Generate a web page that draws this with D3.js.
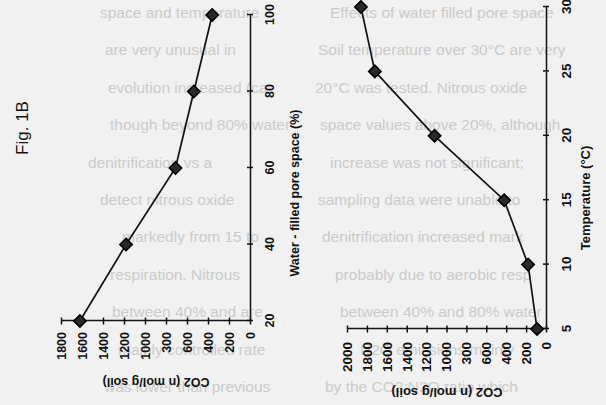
<!DOCTYPE html>
<html><head><meta charset="utf-8">
<script src="https://cdn.jsdelivr.net/npm/d3@7"></script>
<style>
body{margin:0;background:#f1f1f1}
svg{display:block}
text{font-family:"Liberation Sans",Arial,sans-serif}
</style>
</head><body>
<svg id="c" width="606" height="405"></svg>
<script>
// ---- data ----
const waterLevels = [20, 40, 60, 80, 100];
const co2Water    = [1620, 1180, 710, 535, 360];
const temperatures = [5, 10, 15, 20, 25, 30];
const co2Temp      = [90, 180, 420, 1120, 1720, 1860];
const co2TicksA = [0, 200, 400, 600, 800, 1000, 1200, 1400, 1600, 1800];
const co2TicksB = [0, 200, 400, 600, 800, 1000, 1200, 1400, 1600, 1800, 2000];
const co2LabelsA = ["0","200","400","600","300","1000","1200","1400","1600","1800"];
const co2LabelsB = ["0","200","400","600","300","1000","1200","1400","1600","1800","2000"];
const waterTicks = [20, 40, 60, 80, 100];
const tempTicks = [5, 10, 15, 20, 25, 30];
const bgLeft = [
  "space and temperature",
  "are very unusual in",
  "evolution increased (ca",
  "though beyond 80% water",
  "denitrification vs a",
  "detect nitrous oxide",
  "markedly from 15 to",
  "respiration. Nitrous",
  "between 40% and are",
  "mainly controlled rate",
  "was lower than previous"
];
const bgRight = [
  "Effects of water filled pore space",
  "Soil temperature over 30°C are very",
  "20°C was tested. Nitrous oxide",
  "space values above 20%, although",
  "increase was not significant;",
  "sampling data were unable to",
  "denitrification increased mark",
  "probably due to aerobic resp",
  "between 40% and 80% water",
  "N2O emissions mainly",
  "by the CO2:N2O ratio which"
];

const svg = d3.select("#c");
svg.append("rect").attr("width",606).attr("height",405).attr("fill","#f1f1f1");

// faint bleed-through text of the scanned page
const bg = svg.append("g").attr("fill","#cbcbcb").attr("font-size",15.5);
function fitRow(sel, right){
  sel.each(function(){
    const t = d3.select(this), x = +t.attr("x");
    const avail = right - x;
    if (this.getComputedTextLength() > avail) t.attr("textLength", avail).attr("lengthAdjust","spacingAndGlyphs");
  });
}
bg.append("g").selectAll("text").data(bgLeft).join("text")
  .attr("x",(d,i)=>[100,105,108,110,88,100,122,110,112,118,104][i]).attr("y",(d,i)=>18+i*37.4).text(d=>d)
  .call(fitRow, 300);
bg.append("g").selectAll("text").data(bgRight).join("text")
  .attr("x",(d,i)=>[330,318,315,320,330,318,322,335,340,360,325][i]).attr("y",(d,i)=>18+i*37.4).text(d=>d)
  .call(fitRow, 603);

function chart(o){
  // whole chart drawn in a frame rotated -90deg
  const g = svg.append("g").attr("transform","translate(0,405) rotate(-90)");
  const xs = d3.scaleLinear().domain(o.xDomain).range(o.xRange);
  const ys = d3.scaleLinear().domain(o.yDomain).range(o.yRange);
  const v0 = ys(0), u0 = xs(o.xDomain[0]);

  const xa = g.append("g").attr("transform",`translate(0,${v0})`)
    .call(d3.axisBottom(xs).tickValues(o.xTicks).tickSize(3).tickSizeOuter(0).tickPadding(o.xPad));
  xa.selectAll(".tick line").attr("y1",-3).attr("y2",3);
  xa.selectAll("path,line").attr("stroke","#111").attr("stroke-width",1.5);
  xa.selectAll("text").attr("font-size",o.fs).attr("font-weight","bold").attr("fill","#111");

  const ya = g.append("g").attr("transform",`translate(${u0},0)`)
    .call(d3.axisLeft(ys).tickValues(o.yTicks).tickFormat((d,i)=>o.yLabels[i]).tickSize(3).tickSizeOuter(0).tickPadding(o.yPad));
  ya.selectAll(".tick line").attr("x1",-3.5).attr("x2",3.5);
  ya.selectAll("path,line").attr("stroke","#111").attr("stroke-width",1.5);
  ya.selectAll("text").attr("font-size",o.fs).attr("font-weight","bold").attr("fill","#111");

  const line = d3.line().x((d,i)=>xs(o.xs[i])).y(d=>ys(d));
  g.append("path").datum(o.ys).attr("d",line).attr("fill","none").attr("stroke","#111").attr("stroke-width",1.7);
  const sym = d3.symbol().type(d3.symbolSquare).size(76);
  g.selectAll(".m").data(o.ys).join("path").attr("class","m")
    .attr("transform",(d,i)=>`translate(${xs(o.xs[i])},${ys(d)}) rotate(45)`)
    .attr("d",sym).attr("fill","#2a2a2a").attr("stroke","#000").attr("stroke-width",1.6);

  g.append("text").attr("x",o.xTitlePos[0]).attr("y",o.xTitlePos[1]).attr("text-anchor","middle")
    .attr("font-size",o.tfs).attr("font-weight","bold").attr("fill","#111").text(o.xTitle);
  g.append("text").attr("transform",`translate(${o.yTitlePos[0]},${o.yTitlePos[1]}) rotate(-90)`)
    .attr("text-anchor","middle").attr("font-size",o.tfs).attr("font-weight","bold").attr("fill","#111").text("CO2 (n mol/g soil)");
}

chart({xDomain:[20,100], xRange:[84,390], yDomain:[0,1800], yRange:[250,61],
  xTicks:waterTicks, yTicks:co2TicksA, yLabels:co2LabelsA, xs:waterLevels, ys:co2Water,
  xPad:12, yPad:8, fs:12.5, tfs:12.5, xTitle:"Water - filled pore space (%)",
  xTitlePos:[212,299], yTitlePos:[27,156]});

chart({xDomain:[5,30], xRange:[76,398], yDomain:[0,2000], yRange:[546,347],
  xTicks:tempTicks, yTicks:co2TicksB, yLabels:co2LabelsB, xs:temperatures, ys:co2Temp,
  xPad:12, yPad:10, fs:13.5, tfs:13, xTitle:"Temperature (°C)",
  xTitlePos:[207,590], yTitlePos:[17,447]});

svg.append("text").attr("transform","translate(28,128) rotate(-90)").attr("text-anchor","middle")
  .attr("font-size",17).attr("fill","#111").text("Fig. 1B");
</script>
</body></html>
